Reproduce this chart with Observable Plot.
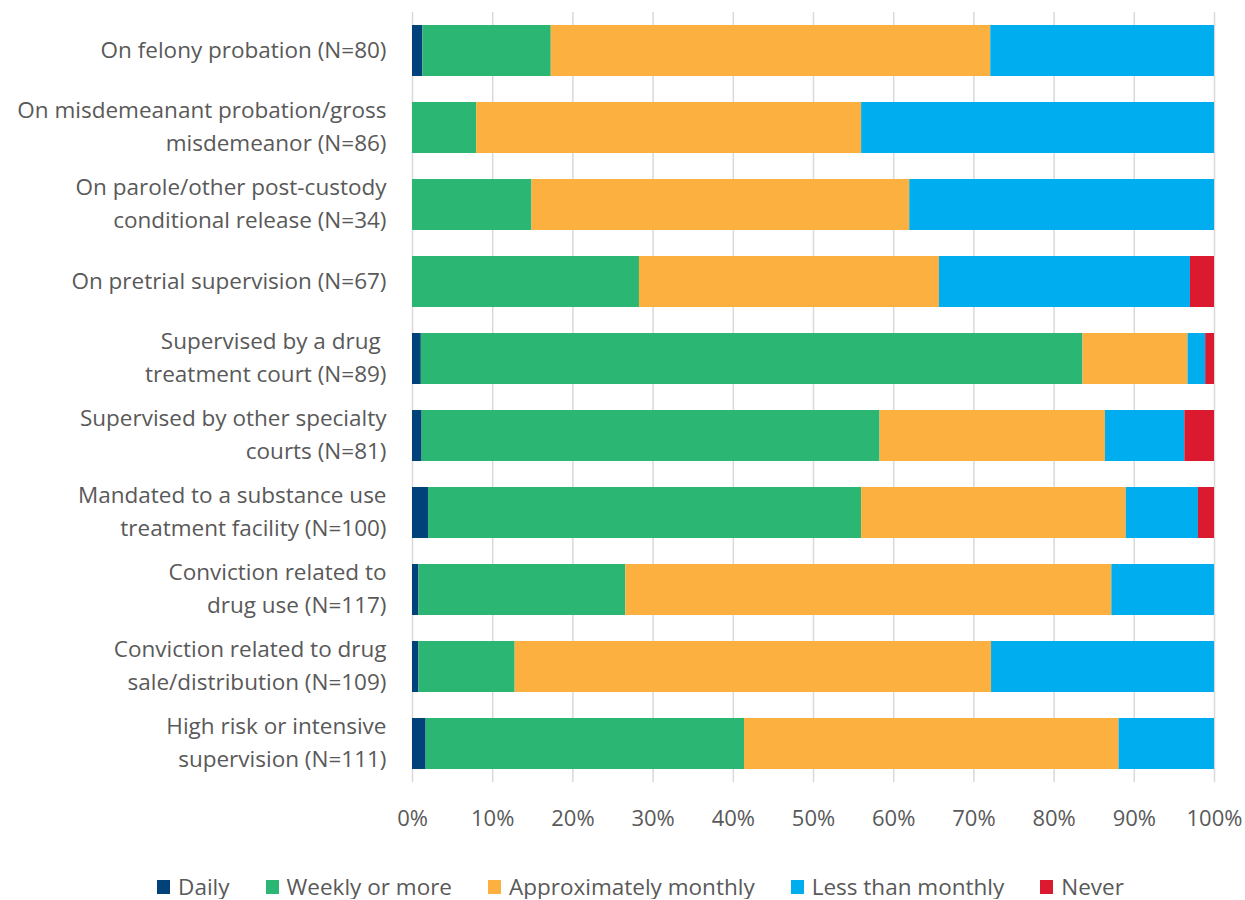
<!DOCTYPE html>
<html>
<head>
<meta charset="utf-8">
<script src="https://cdn.jsdelivr.net/npm/d3@7"></script>
<script src="https://cdn.jsdelivr.net/npm/@observablehq/plot@0.6"></script>
<style>
  body { margin: 0; background: #fff; font-family: "Open Sans", sans-serif; color: #595959; }
  #chart svg { display: block; }
  #legend { display: flex; justify-content: center; align-items: center; padding-left: 36px; margin-top: 35px; font-size: 22.5px; line-height: 24px; }
  .item { display: flex; align-items: center; margin: 0 18px; }
  .sw { width: 13px; height: 14px; margin-right: 8px; }
</style>
</head>
<body>
<div id="chart"></div>
<div id="legend"></div>
<script>
const categories = [
  "On felony probation (N=80)",
  "On misdemeanant probation/gross\nmisdemeanor (N=86)",
  "On parole/other post-custody\nconditional release (N=34)",
  "On pretrial supervision (N=67)",
  "Supervised by a drug \ntreatment court (N=89)",
  "Supervised by other specialty\ncourts (N=81)",
  "Mandated to a substance use\ntreatment facility (N=100)",
  "Conviction related to\ndrug use (N=117)",
  "Conviction related to drug\nsale/distribution (N=109)",
  "High risk or intensive\nsupervision (N=111)"
];
const seriesNames = ["Daily", "Weekly or more", "Approximately monthly", "Less than monthly", "Never"];
const seriesColors = ["#01427a", "#2cb673", "#fbb040", "#00aeef", "#db1a30"];
const daily   = [1.3, 0, 0, 0, 1.1, 1.2, 2, 0.8, 0.8, 1.7];
const weekly  = [16.0, 8.0, 14.9, 28.3, 82.5, 57.1, 54, 25.8, 12.0, 39.7];
const monthly = [54.8, 48.0, 47.1, 37.4, 13.1, 28.1, 33, 60.6, 59.4, 46.7];
const less    = [27.9, 44.0, 38.0, 31.3, 2.2, 9.9, 9, 12.8, 27.8, 11.9];
const never   = [0, 0, 0, 3.0, 1.1, 3.7, 2, 0, 0, 0];
const xTicks = [0, 10, 20, 30, 40, 50, 60, 70, 80, 90, 100];

const seriesValues = [daily, weekly, monthly, less, never];
const rows = [];
categories.forEach((c, i) => {
  seriesNames.forEach((s, j) => {
    rows.push({category: c, series: s, value: seriesValues[j][i]});
  });
});

const chart = Plot.plot({
  width: 1245,
  height: 840,
  marginLeft: 412,
  marginRight: 31,
  marginTop: 12,
  marginBottom: 58,
  style: {fontFamily: "'Open Sans', sans-serif", fontSize: "22px", color: "#595959", background: "#fff"},
  x: {domain: [0, 100]},
  y: {domain: categories, paddingInner: 0.338, paddingOuter: 0.169},
  color: {domain: seriesNames, range: seriesColors},
  marks: [
    Plot.gridX(xTicks, {stroke: "#d9d9d9", strokeOpacity: 1, strokeWidth: 1.5}),
    Plot.barX(rows, Plot.stackX({x: "value", y: "category", fill: "series", order: seriesNames})),
    Plot.axisX({ticks: xTicks, tickFormat: d => d + "%", tickSize: 0, tickPadding: 28, label: null, fontSize: 22}),
    Plot.axisY({tickSize: 0, tickPadding: 26, label: null, fontSize: 22.5, lineHeight: 1.47, dy: -4})
  ]
});
document.getElementById("chart").appendChild(chart);

const legend = document.getElementById("legend");
seriesNames.forEach((s, i) => {
  const item = document.createElement("div");
  item.className = "item";
  const sw = document.createElement("span");
  sw.className = "sw";
  sw.style.background = seriesColors[i];
  const t = document.createElement("span");
  t.textContent = s;
  item.appendChild(sw);
  item.appendChild(t);
  legend.appendChild(item);
});
</script>
</body>
</html>
